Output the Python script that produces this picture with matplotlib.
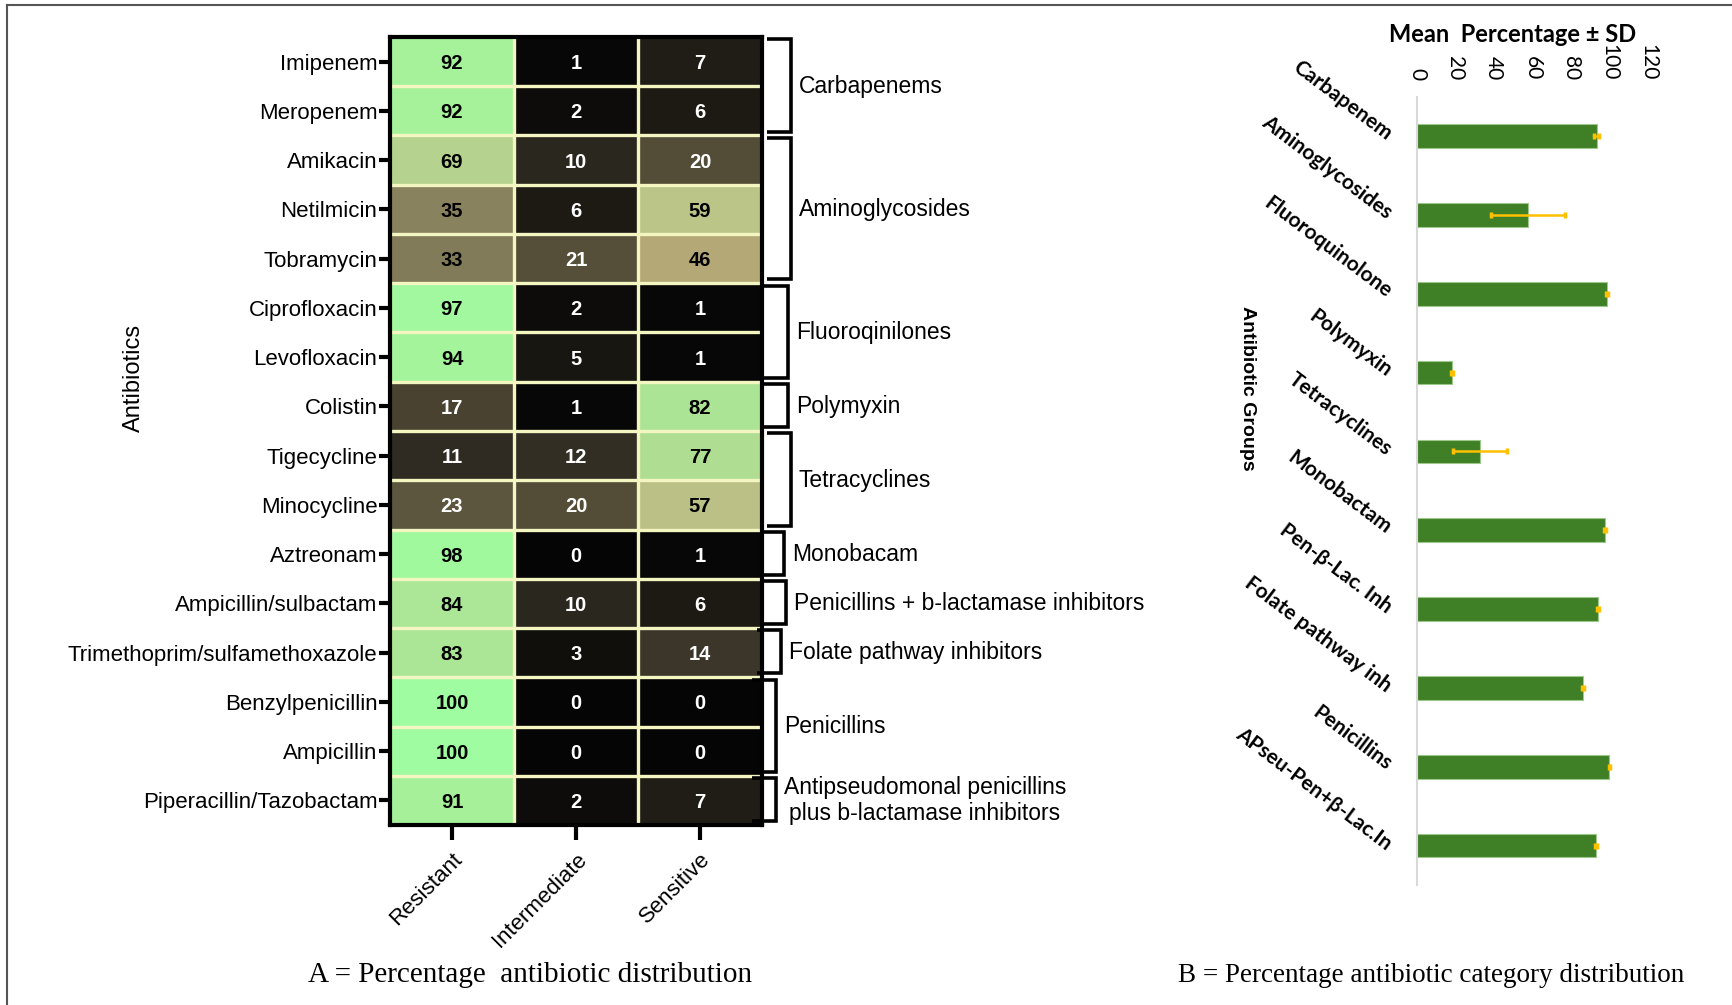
import numpy as np
import matplotlib.pyplot as plt
from matplotlib.colors import LinearSegmentedColormap
from matplotlib.lines import Line2D

# ---- panel A data: % of isolates per antibiotic ----
antibiotics = ['Imipenem', 'Meropenem', 'Amikacin', 'Netilmicin', 'Tobramycin',
               'Ciprofloxacin', 'Levofloxacin', 'Colistin', 'Tigecycline',
               'Minocycline', 'Aztreonam', 'Ampicillin/sulbactam',
               'Trimethoprim/sulfamethoxazole', 'Benzylpenicillin', 'Ampicillin',
               'Piperacillin/Tazobactam']
outcomes = ['Resistant', 'Intermediate', 'Sensitive']
resistant = [92, 92, 69, 35, 33, 97, 94, 17, 11, 23, 98, 84, 83, 100, 100, 91]
intermediate = [1, 2, 10, 6, 21, 2, 5, 1, 12, 20, 0, 10, 3, 0, 0, 2]
sensitive = [7, 6, 20, 59, 46, 1, 1, 82, 77, 57, 1, 6, 14, 0, 0, 7]

# antibiotic classes: (label, first row, last row)
classes = [('Carbapenems', 0, 1),
           ('Aminoglycosides', 2, 4),
           ('Fluoroqinilones', 5, 6),
           ('Polymyxin', 7, 7),
           ('Tetracyclines', 8, 9),
           ('Monobacam', 10, 10),
           ('Penicillins + b-lactamase inhibitors', 11, 11),
           ('Folate pathway inhibitors', 12, 12),
           ('Penicillins', 13, 14),
           ('Antipseudomonal penicillins\nplus b-lactamase inhibitors', 15, 15)]

# ---- panel B data: mean % resistance per class ----
class_names = ['Carbapenem', 'Aminoglycosides', 'Fluoroquinolone', 'Polymyxin',
               'Tetracyclines', 'Monobactam', 'Pen-β-Lac. Inh',
               'Folate pathway inh', 'Penicillins', 'APseu-Pen+β-Lac.In']
class_mean = [93.3, 57.6, 98.6, 18.2, 32.9, 97.5, 93.8, 86.2, 100.0, 92.8]
class_sd = [1.5, 19.4, 0.5, 0.5, 14.0, 0.5, 0.5, 0.5, 0.5, 0.5]

W, H = 1733, 1005
fig = plt.figure(figsize=(W / 100, H / 100), dpi=100)
fig.patch.set_facecolor('white')

def rect(left, top, right, bottom):
    return [left / W, 1 - bottom / H, (right - left) / W, (bottom - top) / H]

SANS = ['Liberation Sans', 'DejaVu Sans']
CAL = ['Lato', 'DejaVu Sans']
SERIF = ['Liberation Serif', 'DejaVu Serif']

# outer frame (top and left edges only)
fig.add_artist(Line2D([7 / W, 1], [1 - 5 / H, 1 - 5 / H], color='#555555', lw=1.5))
fig.add_artist(Line2D([7 / W, 7 / W], [1 - 5 / H, 0], color='#555555', lw=1.5))

# ---------------- panel A: heatmap ----------------
cmap = LinearSegmentedColormap.from_list('res', [
    (0.00, '#050505'), (0.06, '#1e1b15'), (0.10, '#2b2820'), (0.17, '#4a4331'),
    (0.23, '#5c573e'), (0.35, '#8a8360'), (0.46, '#b5aa77'), (0.58, '#bcc488'),
    (0.69, '#b6d38f'), (0.80, '#aee295'), (0.92, '#a6f29b'), (1.00, '#a0fca0')])

vals = np.column_stack([resistant, intermediate, sensitive])
ax = fig.add_axes(rect(390, 37, 762, 825))
ax.imshow(vals, cmap=cmap, vmin=0, vmax=100, aspect='auto', interpolation='nearest')
grid_col = '#f4f6c2'
for i in range(1, len(antibiotics)):
    ax.axhline(i - 0.5, color=grid_col, lw=2.4)
for j in range(1, len(outcomes)):
    ax.axvline(j - 0.5, color=grid_col, lw=2.4)

for i in range(vals.shape[0]):
    for j in range(vals.shape[1]):
        v = vals[i, j]
        ax.text(j, i, str(v), ha='center', va='center_baseline', fontsize=14.5,
                fontweight='bold', family=SANS,
                color='black' if v >= 30 else 'white')

for s in ax.spines.values():
    s.set_linewidth(3)
    s.set_color('black')
ax.set_yticks(range(len(antibiotics)))
ax.set_yticklabels(antibiotics, fontsize=16, family=SANS)
ax.set_xticks(range(len(outcomes)))
ax.set_xticklabels(outcomes, fontsize=16, family=SANS, rotation=45,
                   ha='right', rotation_mode='anchor')
ax.tick_params(axis='y', length=8, width=3, pad=1)
ax.tick_params(axis='x', length=11, width=3, pad=6)

# class brackets to the right of the heatmap
bracket_x = [2.73, 2.73, 2.71, 2.71, 2.73, 2.68, 2.69, 2.65, 2.61, 2.61]
arm = 0.19
for (name, r0, r1), bx_ in zip(classes, bracket_x):
    top, bot = r0 - 0.45, r1 + 0.42
    ax.plot([bx_ - arm, bx_, bx_, bx_ - arm], [top, top, bot, bot], color='black',
            lw=2.6, clip_on=False, solid_joinstyle='miter', solid_capstyle='butt')
    ax.text(bx_ + 0.065, (r0 + r1) / 2, name, ha='left', va='center', fontsize=16.5,
            family=SANS, multialignment='center', clip_on=False)
ax.set_xlim(-0.5, len(outcomes) - 0.5)
ax.set_ylim(len(antibiotics) - 0.5, -0.5)

fig.text(134 / W, 1 - 378 / H, 'Antibiotics', rotation=90, fontsize=17,
         family=SANS, ha='center', va='center')
fig.text(530 / W, 1 - 975 / H, 'A = Percentage  antibiotic distribution',
         fontsize=21, family=SERIF, ha='center', va='center')

# ---------------- panel B: class means ----------------
bx = fig.add_axes(rect(1417, 96.6, 1417 + 130 * 1.925, 885))
y = np.arange(len(class_names))
bx.barh(y, class_mean, height=0.30, color='#3f7f26', edgecolor='#9cc98a',
        lw=0.8, zorder=2)
bx.errorbar(class_mean, y, xerr=class_sd, fmt='none', ecolor='#ffc000',
            elinewidth=1.8, capsize=2.5, capthick=2.5, zorder=3)
bx.set_ylim(len(class_names) - 0.5, -0.5)
bx.set_xlim(0, 130)
bx.xaxis.tick_top()
bx.set_xticks(np.arange(0, 121, 20))
bx.set_xticklabels([str(t) for t in range(0, 121, 20)], rotation=-90,
                   fontsize=15, family=CAL)
bx.set_yticks(y)
bx.set_yticklabels(class_names, fontsize=15, fontweight='bold', family=CAL)
for lbl in bx.get_yticklabels():
    lbl.set_rotation(-37)
    lbl.set_rotation_mode('anchor')
    lbl.set_ha('right')
    lbl.set_va('center')
bx.tick_params(axis='x', length=0, pad=12)
bx.tick_params(axis='y', length=0, pad=20)
for side in ['top', 'right', 'bottom']:
    bx.spines[side].set_visible(False)
bx.spines['left'].set_color('#d9d9d9')
bx.spines['left'].set_linewidth(1.5)

fig.text(1513 / W, 1 - 35 / H, 'Mean  Percentage ± SD', fontsize=17,
         fontweight='bold', family=CAL, ha='center', va='center')
fig.text(1248 / W, 1 - 388 / H, 'Antibiotic Groups', rotation=-90, fontsize=14,
         fontweight='bold', family=SANS, ha='center', va='center')
fig.text(1431 / W, 1 - 975 / H, 'B = Percentage antibiotic category distribution',
         fontsize=19.5, family=SERIF, ha='center', va='center')

fig.savefig('out.png', dpi=100)
